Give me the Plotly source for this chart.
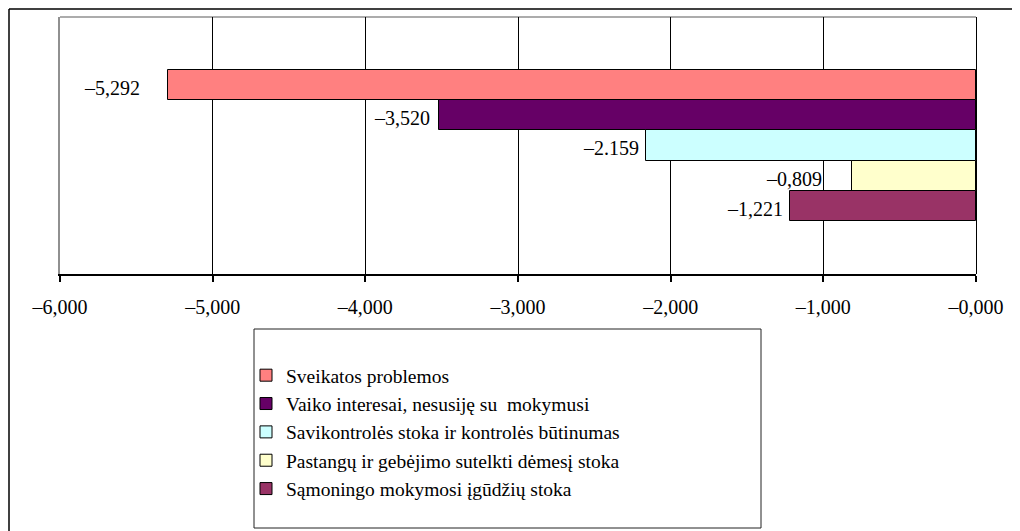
import plotly.graph_objects as go

# ---- data ----
series_names = [
    "Sveikatos problemos",
    "Vaiko interesai, nesusiję su  mokymusi",
    "Savikontrolės stoka ir kontrolės būtinumas",
    "Pastangų ir gebėjimo sutelkti dėmesį stoka",
    "Sąmoningo mokymosi įgūdžių stoka",
]
values = [-5.292, -3.520, -2.159, -0.809, -1.221]
value_labels = ["–5,292", "–3,520", "–2.159", "–0,809", "–1,221"]
tick_values = [-6, -5, -4, -3, -2, -1, 0]
tick_labels = ["–6,000", "–5,000", "–4,000", "–3,000", "–2,000", "–1,000", "–0,000"]

# ---- style ----
colors = ["#FF8080", "#660066", "#CCFFFF", "#FFFFCC", "#993366"]
label_gap = [26, 7, 5, 28, 5]
FONT = "Liberation Serif, Times New Roman, serif"
OFF = 8              # default page body margin
W, H = 1020 - OFF, 531 - OFF

def px(x):
    return (x - OFF) / W

def py(y):
    return 1 - (y - OFF) / H

fig = go.Figure()
for name, v, c in zip(series_names, values, colors):
    fig.add_trace(go.Bar(
        x=[v], y=[name], name=name, orientation="h",
        marker=dict(color=c, line=dict(color="black", width=1)),
        hoverinfo="skip",
    ))

for name, v, lab, g in zip(series_names, values, value_labels, label_gap):
    fig.add_annotation(
        x=v, y=name, xref="x", yref="y", text=lab, showarrow=False,
        xanchor="right", yanchor="middle", xshift=-g, yshift=-3,
        font=dict(family=FONT, size=20, color="black"),
    )

shapes = [
    # outer frame (top and left)
    dict(type="line", xref="paper", yref="paper", x0=px(9), x1=px(1030), y0=py(9), y1=py(9),
         line=dict(color="black", width=1.5)),
    dict(type="line", xref="paper", yref="paper", x0=px(9), x1=px(9), y0=py(9), y1=py(540),
         line=dict(color="black", width=1.5)),
    # plot area top border
    dict(type="line", xref="x domain", yref="y domain", x0=0, x1=1, y0=1, y1=1,
         line=dict(color="#909090", width=1.5), layer="below"),
    # legend box
    dict(type="rect", xref="paper", yref="paper", x0=px(254), x1=px(761), y0=py(329), y1=py(528),
         line=dict(color="#222222", width=1), fillcolor="rgba(0,0,0,0)"),
]

fig.update_layout(
    width=W, height=H, autosize=False,
    margin=dict(l=0, r=0, t=0, b=0, pad=0, autoexpand=False),
    paper_bgcolor="white", plot_bgcolor="white",
    barmode="overlay", bargap=0,
    font=dict(family=FONT, size=20, color="black"),
    showlegend=True,
    legend=dict(
        x=px(246), y=py(356), xanchor="left", yanchor="top",
        bgcolor="rgba(0,0,0,0)", borderwidth=0,
        font=dict(family=FONT, size=19.5, color="black"),
        traceorder="normal",
    ),
    shapes=shapes,
    xaxis=dict(
        domain=[px(60), px(976)],
        range=[-6, 0],
        tickvals=tick_values, ticktext=tick_labels,
        showgrid=True, gridcolor="black", gridwidth=1,
        zeroline=True, zerolinecolor="black", zerolinewidth=1,
        showline=True, linecolor="black", linewidth=1.5,
        ticks="outside", ticklen=6, tickcolor="black", tickwidth=1.5,
        ticklabelstandoff=8,
        tickfont=dict(family=FONT, size=20, color="black"),
        automargin=False,
        fixedrange=True,
    ),
    yaxis=dict(
        domain=[py(274), py(17)],
        type="category",
        categoryorder="array", categoryarray=series_names,
        range=[6.23, -2.23],
        showticklabels=False, showgrid=False, zeroline=False,
        showline=True, linecolor="#909090", linewidth=1.5,
        ticks="",
        automargin=False,
        fixedrange=True,
    ),
)

fig.write_html("out.html")
